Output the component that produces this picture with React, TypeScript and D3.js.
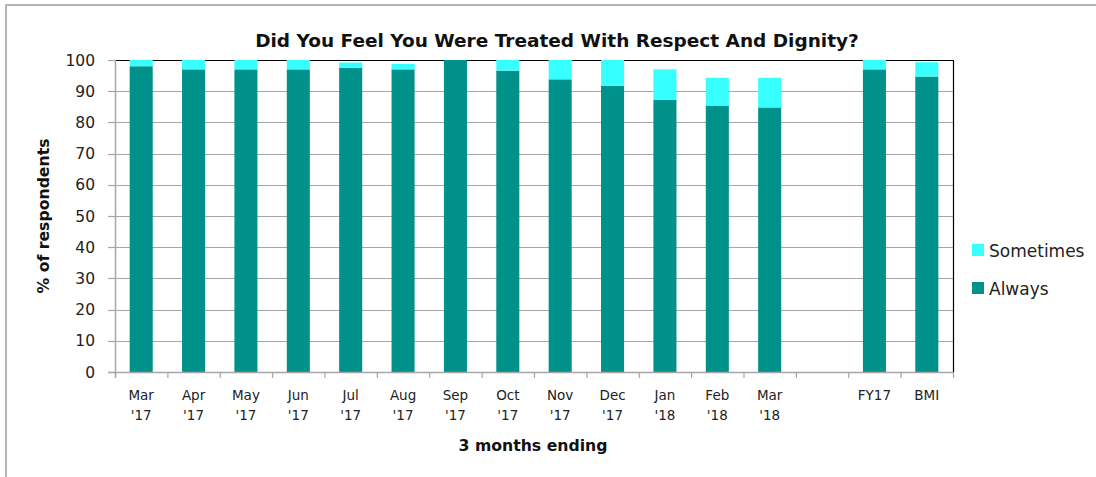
import * as React from 'react';
import * as d3 from 'd3';

// categories (blank slot between Mar '18 and FY17)
const months = ['Mar', 'Apr', 'May', 'Jun', 'Jul', 'Aug', 'Sep', 'Oct', 'Nov', 'Dec', 'Jan', 'Feb', 'Mar', '', 'FY17', 'BMI'];
const years = ["'17", "'17", "'17", "'17", "'17", "'17", "'17", "'17", "'17", "'17", "'18", "'18", "'18", '', '', ''];
const always = [98, 97, 97, 97, 97.5, 97, 100, 96.6, 93.8, 91.7, 87.2, 85.4, 84.8, null, 97, 94.7];
const sometimes = [2, 3, 3, 3, 1.7, 1.8, 0, 3.4, 6.2, 8.3, 9.8, 8.9, 9.5, null, 3, 4.6];
const yTicks = [0, 10, 20, 30, 40, 50, 60, 70, 80, 90, 100];

const seriesNames = ['Always', 'Sometimes'];
const seriesColors = ['#00918b', '#38ffff'];

const W = 1096;
const H = 477;
const FONT = '"DejaVu Sans", sans-serif';

export default function App() {
  const ref = React.useRef<SVGSVGElement>(null);

  React.useEffect(() => {
    const svg = d3.select(ref.current);
    svg.selectAll('*').remove();

    const left = 115;
    const right = 953;
    const top = 60;
    const bottom = 372;

    const keys = months.map((m, i) => `${i}`);
    const x = d3.scaleBand<string>().domain(keys).range([left, right]).paddingInner(0.56).paddingOuter(0.28);
    const y = d3.scaleLinear().domain([0, 100]).range([bottom, top]);
    const step = x.step();

    // outer frame (top + left only)
    svg.append('path')
      .attr('d', `M6,${H} L6,5 L${W},5`)
      .attr('fill', 'none')
      .attr('stroke', '#b5b5b5')
      .attr('stroke-width', 2);

    // grid
    svg.append('g')
      .selectAll('line')
      .data(yTicks.filter(t => t > 0))
      .join('line')
      .attr('x1', left)
      .attr('x2', right)
      .attr('y1', d => Math.round(y(d)) + 0.5)
      .attr('y2', d => Math.round(y(d)) + 0.5)
      .attr('stroke', d => (d === 100 ? '#000' : '#a6a6a6'))
      .attr('stroke-width', 1.2);

    // bars
    const stacked = keys.map((k, i) => ({ key: k, a: always[i], s: sometimes[i] }));
    const barG = svg.append('g');
    stacked.forEach(d => {
      if (d.a == null) return;
      barG.append('rect')
        .attr('x', x(d.key)!)
        .attr('width', x.bandwidth())
        .attr('y', y(d.a))
        .attr('height', y(0) - y(d.a))
        .attr('fill', seriesColors[0]);
      if (d.s && d.s > 0) {
        barG.append('rect')
          .attr('x', x(d.key)!)
          .attr('width', x.bandwidth())
          .attr('y', y(d.a + d.s))
          .attr('height', y(d.a) - y(d.a + d.s))
          .attr('fill', seriesColors[1]);
      }
    });

    // right border of plot
    svg.append('line')
      .attr('x1', right + 0.5).attr('x2', right + 0.5)
      .attr('y1', top).attr('y2', bottom)
      .attr('stroke', '#000').attr('stroke-width', 1.2);

    // y axis
    const yAxis = svg.append('g');
    yAxis.append('line')
      .attr('x1', left + 0.5).attr('x2', left + 0.5)
      .attr('y1', top).attr('y2', bottom + 6)
      .attr('stroke', '#a6a6a6').attr('stroke-width', 1.5);
    yAxis.selectAll('line.tick')
      .data(yTicks)
      .join('line')
      .attr('class', 'tick')
      .attr('x1', left - 7).attr('x2', left)
      .attr('y1', d => Math.round(y(d)) + 0.5)
      .attr('y2', d => Math.round(y(d)) + 0.5)
      .attr('stroke', '#a6a6a6').attr('stroke-width', 1.2);
    yAxis.selectAll('text')
      .data(yTicks)
      .join('text')
      .attr('x', 95)
      .attr('y', d => y(d) + 5.5)
      .attr('text-anchor', 'end')
      .attr('font-family', FONT)
      .attr('font-size', 15.5)
      .attr('fill', '#222')
      .text(d => d);

    // x axis
    const xAxis = svg.append('g');
    xAxis.append('line')
      .attr('x1', left - 7).attr('x2', right)
      .attr('y1', bottom + 0.5).attr('y2', bottom + 0.5)
      .attr('stroke', '#a6a6a6').attr('stroke-width', 1.5);
    xAxis.selectAll('line.tick')
      .data(d3.range(keys.length + 1))
      .join('line')
      .attr('class', 'tick')
      .attr('x1', i => left + i * step + 0.5)
      .attr('x2', i => left + i * step + 0.5)
      .attr('y1', bottom)
      .attr('y2', bottom + 6)
      .attr('stroke', '#a6a6a6').attr('stroke-width', 1.2);
    const lbl = xAxis.selectAll('text.lbl')
      .data(keys)
      .join('text')
      .attr('class', 'lbl')
      .attr('text-anchor', 'middle')
      .attr('font-family', FONT)
      .attr('font-size', 13.5)
      .attr('fill', '#222');
    lbl.append('tspan')
      .attr('x', k => x(k)! + x.bandwidth() / 2)
      .attr('y', 400)
      .text((k, i) => months[i]);
    lbl.append('tspan')
      .attr('x', k => x(k)! + x.bandwidth() / 2)
      .attr('y', 420)
      .text((k, i) => years[i]);

    // titles
    svg.append('text')
      .attr('x', 557).attr('y', 47)
      .attr('text-anchor', 'middle')
      .attr('font-family', FONT)
      .attr('font-weight', 'bold')
      .attr('font-size', 18.5)
      .attr('fill', '#111')
      .text('Did You Feel You Were Treated With Respect And Dignity?');

    svg.append('text')
      .attr('x', 533).attr('y', 451)
      .attr('text-anchor', 'middle')
      .attr('font-family', FONT)
      .attr('font-weight', 'bold')
      .attr('font-size', 15.7)
      .attr('fill', '#111')
      .text('3 months ending');

    svg.append('text')
      .attr('transform', 'translate(49,216) rotate(-90)')
      .attr('text-anchor', 'middle')
      .attr('font-family', FONT)
      .attr('font-weight', 'bold')
      .attr('font-size', 15.7)
      .attr('fill', '#111')
      .text('% of respondents');

    // legend (Sometimes on top)
    const legend = svg.append('g');
    const items = [
      { name: seriesNames[1], color: seriesColors[1], y: 251 },
      { name: seriesNames[0], color: seriesColors[0], y: 289 }
    ];
    items.forEach(it => {
      legend.append('rect')
        .attr('x', 972).attr('y', it.y - 7)
        .attr('width', 12).attr('height', 12)
        .attr('fill', it.color);
      legend.append('text')
        .attr('x', 989).attr('y', it.y + 6)
        .attr('font-family', FONT)
        .attr('font-size', 17)
        .attr('fill', '#222')
        .text(it.name);
    });
  }, []);

  return (
    <div style={{ position: 'absolute', left: 0, top: 0 }}>
      <svg ref={ref} width={W} height={H} style={{ display: 'block', background: '#fff' }} />
    </div>
  );
}
